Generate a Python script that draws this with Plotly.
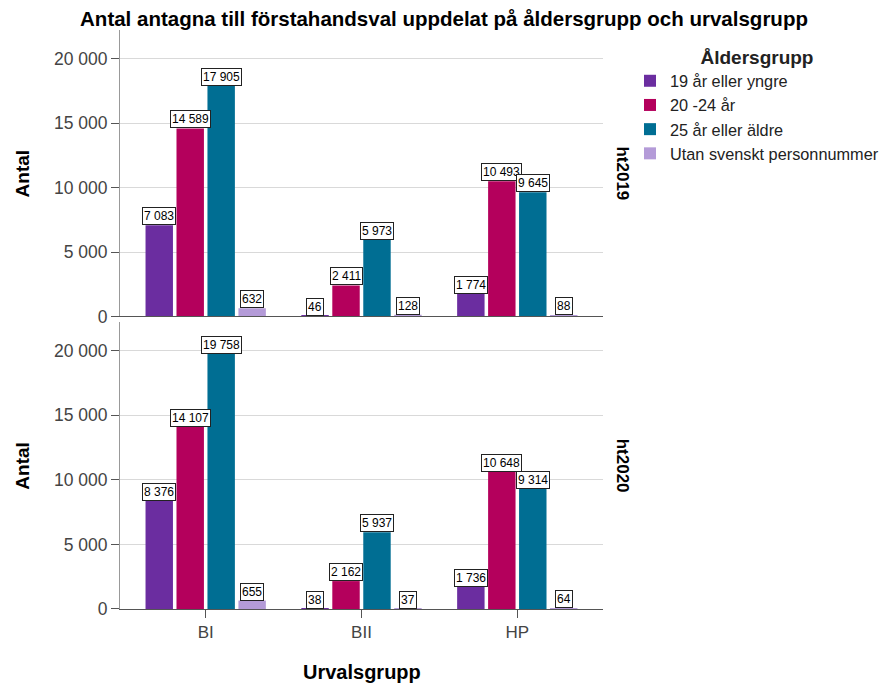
import plotly.graph_objects as go

categories = ["BI", "BII", "HP"]
age_groups = ["19 år eller yngre", "20 -24 år", "25 år eller äldre", "Utan svenskt personnummer"]
colors = ["#6b2da0", "#b4005c", "#006e93", "#b49bd8"]
panels = ["ht2019", "ht2020"]

ht2019_19_yngre = [7083, 46, 1774]
ht2019_20_24 = [14589, 2411, 10493]
ht2019_25_aldre = [17905, 5973, 9645]
ht2019_utan_pnr = [632, 128, 88]

ht2020_19_yngre = [8376, 38, 1736]
ht2020_20_24 = [14107, 2162, 10648]
ht2020_25_aldre = [19758, 5937, 9314]
ht2020_utan_pnr = [655, 37, 64]

values = {
    "ht2019": [ht2019_19_yngre, ht2019_20_24, ht2019_25_aldre, ht2019_utan_pnr],
    "ht2020": [ht2020_19_yngre, ht2020_20_24, ht2020_25_aldre, ht2020_utan_pnr],
}

FONT = "Liberation Sans, Arial, sans-serif"
bargap = 0.205
bargroupgap = 0.114
step = (1 - bargap) / len(age_groups)
ymax = 22230

fig = go.Figure()
axes = {"ht2019": ("x2", "y2"), "ht2020": ("x", "y")}
for p in panels:
    xa, ya = axes[p]
    for i, g in enumerate(age_groups):
        fig.add_trace(go.Bar(
            x=categories, y=values[p][i], name=g,
            marker=dict(color=colors[i], line=dict(width=0)),
            xaxis=xa, yaxis=ya, showlegend=(p == "ht2019"),
            hoverinfo="x+y+name",
        ))

annotations = []
for p in panels:
    xa, ya = axes[p]
    for i, g in enumerate(age_groups):
        for c, v in enumerate(values[p][i]):
            annotations.append(dict(
                x=c + (i - 1.5) * step, y=v, xref=xa, yref=ya,
                text=f"{v:,}".replace(",", " "), showarrow=False,
                yanchor="bottom", xanchor="center",
                font=dict(family=FONT, size=12, color="black"),
                bgcolor="white", bordercolor="#222", borderwidth=1, borderpad=1,
            ))

top_dom = [0.5052, 1.0]
bot_dom = [0.0, 0.4957]

for p, dom in zip(panels, [top_dom, bot_dom]):
    annotations.append(dict(
        x=1.041, y=(dom[0] + dom[1]) / 2, xref="paper", yref="paper",
        text=p, textangle=90, showarrow=False, xanchor="center", yanchor="middle",
        font=dict(family=FONT, size=17, color="black", weight="bold"),
    ))
    annotations.append(dict(
        x=-0.2025, y=(dom[0] + dom[1]) / 2, xref="paper", yref="paper",
        text="Antal", textangle=-90, showarrow=False, xanchor="center", yanchor="middle",
        font=dict(family=FONT, size=19, color="black", weight="bold"),
    ))
annotations.append(dict(
    x=0.5, y=-0.1088, xref="paper", yref="paper", text="Urvalsgrupp",
    showarrow=False, xanchor="center", yanchor="middle",
    font=dict(family=FONT, size=20, color="black", weight="bold"),
))

yaxis_common = dict(
    range=[0, ymax], dtick=5000, tickformat=",", showgrid=True, gridcolor="#d9d9d9",
    gridwidth=1, showline=True, linecolor="#999", linewidth=1, ticks="outside",
    ticklen=8, tickcolor="#555", tickfont=dict(family=FONT, size=17.5, color="#444"),
    zeroline=False, fixedrange=True,
)

fig.update_layout(
    width=887, height=685,
    margin=dict(l=112, r=291, t=22, b=84),
    paper_bgcolor="white", plot_bgcolor="white",
    separators=", ",
    barmode="group", bargap=bargap, bargroupgap=bargroupgap,
    title=dict(
        text="Antal antagna till förstahandsval uppdelat på åldersgrupp och urvalsgrupp",
        x=436 / 887, xref="container", xanchor="center",
        y=1 - 11 / 685, yref="container", yanchor="middle",
        font=dict(family=FONT, size=20.5, color="black", weight="bold"),
    ),
    xaxis=dict(
        domain=[0, 1], anchor="y", type="category", range=[-0.55, 2.55],
        showline=True, linecolor="#555", linewidth=1, ticks="outside", ticklen=8,
        tickcolor="#555", tickfont=dict(family=FONT, size=17, color="#444"),
        showgrid=False, zeroline=False,
    ),
    xaxis2=dict(
        domain=[0, 1], anchor="y2", type="category", range=[-0.55, 2.55], matches="x",
        showline=True, linecolor="#555", linewidth=1, ticks="", showticklabels=False,
        showgrid=False, zeroline=False,
    ),
    yaxis=dict(domain=bot_dom, anchor="x", **yaxis_common),
    yaxis2=dict(domain=top_dom, anchor="x2", **yaxis_common),
    legend=dict(
        x=1.0537, y=0.9845, xref="paper", yref="paper", xanchor="left", yanchor="top",
        bgcolor="rgba(0,0,0,0)", itemclick=False, itemdoubleclick=False,
        font=dict(family=FONT, size=16.3, color="#222"),
        title=dict(text="Åldersgrupp", side="top center",
                   font=dict(family=FONT, size=19, color="#222", weight="bold")),
        itemwidth=30,
    ),
    annotations=annotations,
    showlegend=True,
)

fig.write_html("out.html")
